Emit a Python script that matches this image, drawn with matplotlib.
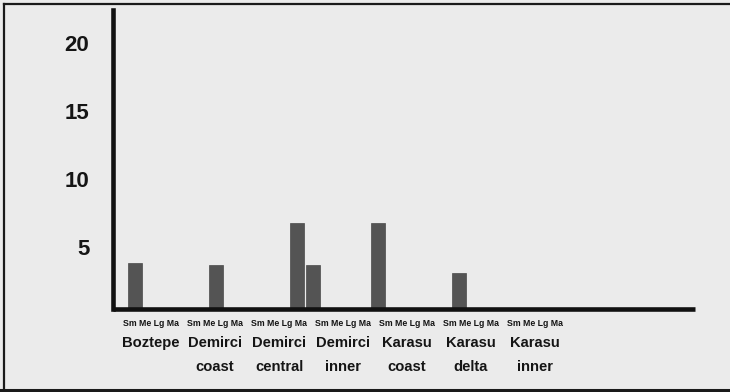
import matplotlib
matplotlib.use("Agg")
import matplotlib.pyplot as plt
from matplotlib.lines import Line2D
from matplotlib.transforms import blended_transform_factory

# Counts per site and size class
sites = ["Boztepe", "Demirci\ncoast", "Demirci\ncentral", "Demirci\ninner",
         "Karasu\ncoast", "Karasu\ndelta", "Karasu\ninner"]
size_classes = ["Sm", "Me", "Lg", "Ma"]
sm_values = [3.8, 3.7, 6.8, 6.8, 3.1, 0, 0]
me_values = [0, 0, 3.7, 0, 0, 0, 0]
lg_values = [0, 0, 0, 0, 0, 0, 0]
ma_values = [0, 0, 0, 0, 0, 0, 0]
y_ticks = [5, 10, 15, 20]

series = [sm_values, me_values, lg_values, ma_values]

W, H = 730, 392
fig = plt.figure(figsize=(W / 100, H / 100), dpi=100)
bg = "#ebebeb"
fig.patch.set_facecolor(bg)

# axes placed in pixel terms
ax_l, ax_r, ax_t, ax_b = 113, 695, 10, 309
ax = fig.add_axes([ax_l / W, 1 - ax_b / H, (ax_r - ax_l) / W, (ax_b - ax_t) / H])
ax.set_facecolor("none")

# x in pixel units measured from the y axis
ax.set_xlim(0, ax_r - ax_l)
ax.set_ylim(0.44, 22.43)

bar_pitch_group = 81
bar_start = 22
bar_w = 14
bar_step = 16
for k, vals in enumerate(series):
    xs = [bar_start + bar_pitch_group * i + bar_step * k for i in range(len(sites))]
    ax.bar(xs, vals, width=bar_w, bottom=0, color="#545454",
           edgecolor="#4a4a4a", linewidth=0.5, zorder=2)

for side in ["top", "right"]:
    ax.spines[side].set_visible(False)
for side in ["left", "bottom"]:
    ax.spines[side].set_linewidth(3.3)
    ax.spines[side].set_color("#111111")
    ax.spines[side].set_zorder(3)
ax.spines["bottom"].set_capstyle("butt")

ax.set_xticks([])
ax.set_yticks(y_ticks)
ax.set_yticklabels([str(t) for t in y_ticks], fontfamily="Liberation Sans",
                   fontweight="bold", fontsize=16, color="#151515")
ax.tick_params(axis="y", length=0, pad=17)

# group labels under the axis
label_start = 38
label_pitch = 64
tr = blended_transform_factory(ax.transData, fig.transFigure)
class_text = " ".join(size_classes)
for i, site in enumerate(sites):
    x = label_start + label_pitch * i
    ax.text(x, 1 - 323 / H, class_text, transform=tr, ha="center", va="center",
            fontfamily="Liberation Sans", fontweight="bold", fontsize=6.3,
            color="#151515", clip_on=False)
    for j, line in enumerate(site.split("\n")):
        ax.text(x, 1 - (343 + 24 * j) / H, line, transform=tr, ha="center",
                va="center", fontfamily="Liberation Sans", fontweight="bold",
                fontsize=10.6, color="#151515", clip_on=False)

# page frame
frame = dict(color="#1a1a1a", transform=fig.transFigure)
fig.add_artist(Line2D([4 / W, 1], [1 - 4 / H, 1 - 4 / H], linewidth=1.6, **frame))
fig.add_artist(Line2D([4 / W, 4 / W], [1 - 4 / H, 1 - 390 / H], linewidth=1.6, **frame))
fig.add_artist(Line2D([0, 1], [1 - 390 / H, 1 - 390 / H], linewidth=2.2, **frame))

fig.savefig("out.png", dpi=100, facecolor=bg)
